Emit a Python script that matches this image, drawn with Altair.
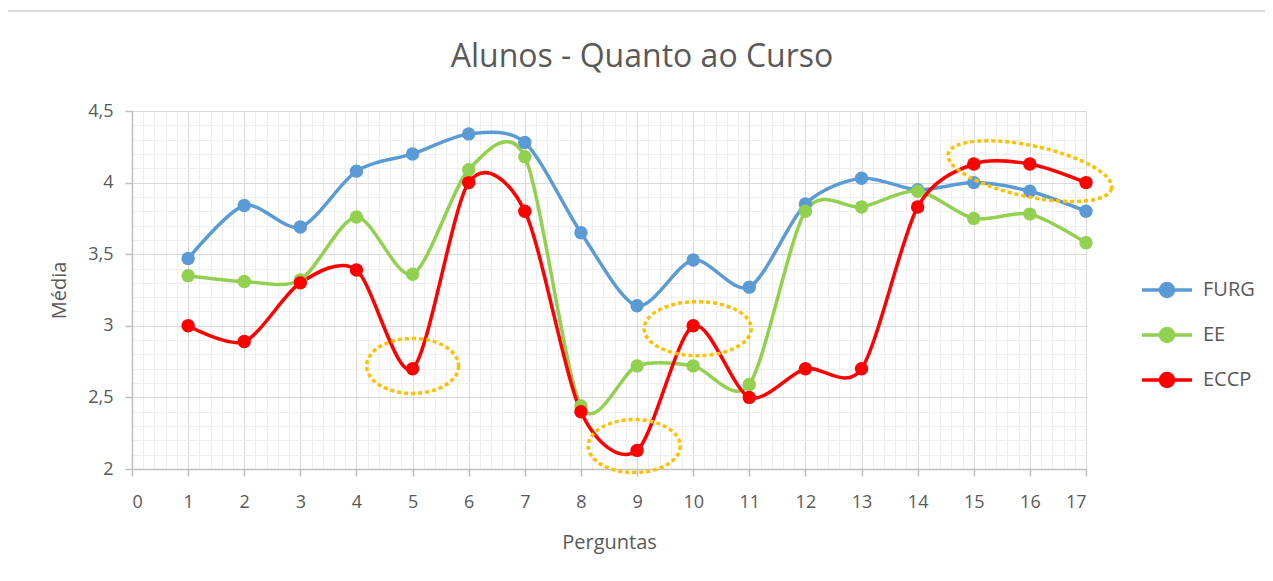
import altair as alt
import pandas as pd

# ---- data ----
perguntas = list(range(1, 18))
furg = [3.47, 3.84, 3.69, 4.08, 4.20, 4.34, 4.28, 3.65, 3.14, 3.46, 3.27, 3.85, 4.03, 3.95, 4.00, 3.94, 3.80]
ee   = [3.35, 3.31, 3.32, 3.76, 3.36, 4.09, 4.18, 2.44, 2.72, 2.72, 2.59, 3.80, 3.83, 3.94, 3.75, 3.78, 3.58]
eccp = [3.00, 2.89, 3.30, 3.39, 2.70, 4.00, 3.80, 2.40, 2.13, 3.00, 2.50, 2.70, 2.70, 3.83, 4.13, 4.13, 4.00]
series_names = ["FURG", "EE", "ECCP"]
series_colors = ["#5B9BD5", "#92D050", "#FF0000"]

# highlighted regions (dotted ellipses): centres in data units
ann_x = [5.0, 8.95, 10.08, 16.0]
ann_y = [2.72, 2.16, 2.98, 4.08]

x_ticks = list(range(0, 18))
y_ticks = [2.0, 2.5, 3.0, 3.5, 4.0, 4.5]

rows = []
for name, vals in zip(series_names, [furg, ee, eccp]):
    for p, v in zip(perguntas, vals):
        rows.append({"Perguntas": p, "Média": v, "Serie": name})
df = pd.DataFrame(rows)

W, H = 954, 358
FONT = "Open Sans"
TXT = "#595959"

x_minor = [round(i * 0.2, 1) for i in range(0, 86) if i % 5 != 0]
y_minor = [round(2 + i * 0.1, 1) for i in range(0, 26) if i % 5 != 0]

xs = alt.Scale(domain=[0, 17], nice=False, zero=False)
ys = alt.Scale(domain=[2, 4.5], nice=False, zero=False)
cs = alt.Scale(domain=series_names, range=series_colors)

# legend symbol: line with a dot, in units of sqrt(size)/2 = 22 px
u = 22.0
L = 25 / u
R = 6.5 / u
kk = 0.5523 * R
sym = (f"M {-L:.4f} 0 L {L:.4f} 0 "
       f"M {R:.4f} 0 C {R:.4f} {kk:.4f} {kk:.4f} {R:.4f} 0 {R:.4f} "
       f"C {-kk:.4f} {R:.4f} {-R:.4f} {kk:.4f} {-R:.4f} 0 "
       f"C {-R:.4f} {-kk:.4f} {-kk:.4f} {-R:.4f} 0 {-R:.4f} "
       f"C {kk:.4f} {-R:.4f} {R:.4f} {-kk:.4f} {R:.4f} 0 Z")

leg = alt.Legend(
    title=None,
    orient="none",
    legendX=1011,
    legendY=155,
    symbolType=sym,
    symbolSize=(2 * u) ** 2,
    symbolStrokeWidth=3.5,
    symbolOpacity=1,
    labelFont=FONT,
    labelFontSize=20,
    labelColor=TXT,
    labelOffset=12,
    rowPadding=7,
    padding=0,
)

# minor grid layer
minor = alt.Chart(df).mark_point(opacity=0).encode(
    x=alt.X("Perguntas:Q", scale=xs, axis=alt.Axis(
        orient="bottom", values=x_minor, grid=True, gridColor="#EFEFEF", gridWidth=1,
        labels=False, ticks=False, domain=False, title=None)),
    y=alt.Y("Média:Q", scale=ys, axis=alt.Axis(
        orient="left", values=y_minor, grid=True, gridColor="#EFEFEF", gridWidth=1,
        labels=False, ticks=False, domain=False, title=None)),
)

# major grid + labelled axes + lines
lines = alt.Chart(df).mark_line(interpolate="cardinal", tension=0.15, strokeWidth=3.5).encode(
    x=alt.X("Perguntas:Q", scale=xs, axis=alt.Axis(
        orient="bottom", values=x_ticks, grid=True, gridColor="#D9D9D9", gridWidth=1,
        domainColor="#BFBFBF", domainWidth=1.5, tickColor="#BFBFBF", tickSize=7, tickWidth=1.5,
        labelFont=FONT, labelFontSize=18, labelColor=TXT, labelPadding=17,
        title="Perguntas", titleFont=FONT, titleFontSize=20, titleFontWeight="normal",
        titleColor=TXT, titlePadding=21)),
    y=alt.Y("Média:Q", scale=ys, axis=alt.Axis(
        orient="left", values=y_ticks, grid=True, gridColor="#D9D9D9", gridWidth=1,
        domainColor="#BFBFBF", domainWidth=1.5, tickColor="#BFBFBF", tickSize=7, tickWidth=1.5,
        labelFont=FONT, labelFontSize=18, labelColor=TXT, labelPadding=12,
        labelExpr="replace(format(datum.value, '~g'), '.', ',')",
        title="Média", titleFont=FONT, titleFontSize=20, titleFontWeight="normal",
        titleColor=TXT, titlePadding=18)),
    color=alt.Color("Serie:N", scale=cs, sort=series_names, legend=leg),
    detail="Serie:N",
)

points = alt.Chart(df).mark_point(filled=True, size=180, opacity=1, shape="circle").encode(
    x=alt.X("Perguntas:Q", scale=xs, axis=None),
    y=alt.Y("Média:Q", scale=ys, axis=None),
    color=alt.Color("Serie:N", scale=cs, sort=series_names, legend=leg),
)

# dotted ellipses
ell_specs = [  # (width px, height px, angle)
    (92, 55, 0),
    (92, 53, 0),
    (107, 54, 0),
    (167, 51, 12),
]
ell_layers = []
k = 0.5523
for i, (ew, eh, ang) in enumerate(ell_specs):
    r = eh / ew
    path = (f"M 1 0 C 1 {k*r:.4f} {k:.4f} {r:.4f} 0 {r:.4f} "
            f"C {-k:.4f} {r:.4f} -1 {k*r:.4f} -1 0 "
            f"C -1 {-k*r:.4f} {-k:.4f} {-r:.4f} 0 {-r:.4f} "
            f"C {k:.4f} {-r:.4f} 1 {-k*r:.4f} 1 0 Z")
    d = pd.DataFrame({"x": [ann_x[i]], "y": [ann_y[i]]})
    ell_layers.append(
        alt.Chart(d).mark_point(
            shape=path, size=ew * ew, filled=False, stroke="#FFC000", strokeWidth=3.5,
            strokeDash=[4, 3], opacity=1, angle=ang,
        ).encode(
            x=alt.X("x:Q", scale=xs, axis=None),
            y=alt.Y("y:Q", scale=ys, axis=None),
        )
    )

border = alt.Chart(df).mark_rule(color="#D9D9D9", strokeWidth=2).encode(
    x=alt.value(-124), x2=alt.value(W + 179), y=alt.value(-100)
)

chart = alt.layer(minor, lines, points, *ell_layers, border).resolve_axis(
    x="independent", y="independent"
).properties(
    width=W,
    height=H,
    title=alt.TitleParams(
        "Alunos - Quanto ao Curso", font=FONT, fontSize=32, fontWeight="normal",
        color=TXT, anchor="middle", frame="group", baseline="alphabetic", offset=-89, dx=33,
    ),
    padding={"left": 124, "top": 103, "right": 179, "bottom": 104},
    autosize=alt.AutoSizeParams(type="none"),
).configure_view(stroke=None).configure(background="white")

chart.save("out.html", embed_options={"renderer": "svg", "actions": False})
